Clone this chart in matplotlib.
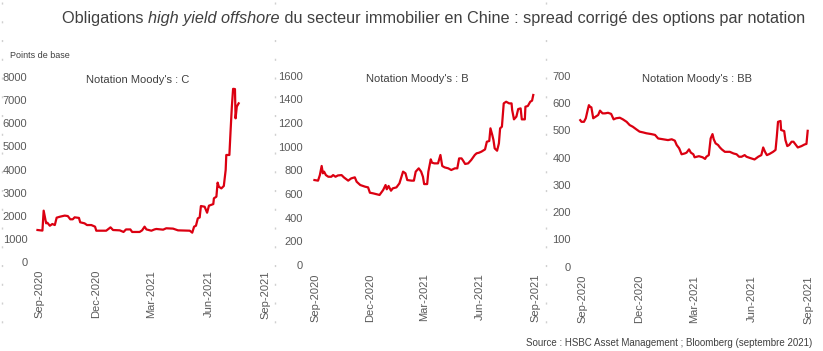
import matplotlib
matplotlib.use("Agg")
import matplotlib.pyplot as plt
import matplotlib.dates as mdates
from matplotlib.lines import Line2D
import pandas as pd
from matplotlib import font_manager as fm

# ---------------- data ----------------
c_dates = ["2020-08-29","2020-09-06","2020-09-08","2020-09-12","2020-09-14","2020-09-18","2020-09-22",
           "2020-09-26","2020-09-29","2020-10-04","2020-10-12","2020-10-17","2020-10-21","2020-10-25",
           "2020-10-28","2020-11-04","2020-11-06","2020-11-13","2020-11-17","2020-11-24","2020-11-30",
           "2020-12-02","2020-12-18","2020-12-25","2020-12-29","2021-01-09","2021-01-15","2021-01-19",
           "2021-01-26","2021-01-29","2021-02-10","2021-02-14","2021-02-18","2021-02-21","2021-03-01",
           "2021-03-06","2021-03-09","2021-03-20","2021-03-25","2021-04-05","2021-04-13","2021-05-02",
           "2021-05-06","2021-05-09","2021-05-12","2021-05-15","2021-05-18","2021-05-20","2021-05-26",
           "2021-05-30","2021-06-02","2021-06-09","2021-06-10","2021-06-14","2021-06-16","2021-06-18",
           "2021-06-22","2021-06-26","2021-06-29","2021-06-30","2021-07-05","2021-07-07","2021-07-09",
           "2021-07-11","2021-07-14","2021-07-15","2021-07-17","2021-07-20"]
c_values = [1375,1350,2215,1665,1690,1560,1635,1590,1910,1950,2000,1980,1840,1840,1925,1900,1710,1665,
            1590,1590,1520,1345,1345,1490,1375,1360,1290,1400,1400,1290,1290,1360,1520,1400,1345,1400,
            1420,1390,1450,1435,1360,1345,1260,1520,1560,1880,1920,2415,2385,2125,2430,2500,2750,2820,
            3430,3255,3180,3285,3980,4630,4630,5715,6730,7500,7490,6220,6730,6870]

b_dates = ["2020-08-31","2020-09-06","2020-09-09","2020-09-12","2020-09-14","2020-09-16","2020-09-19",
           "2020-09-23","2020-09-28","2020-10-01","2020-10-05","2020-10-09","2020-10-15","2020-10-19",
           "2020-10-26","2020-10-31","2020-11-06","2020-11-09","2020-11-15","2020-11-23","2020-11-28",
           "2020-12-01","2020-12-06","2020-12-17","2020-12-23","2020-12-27","2020-12-29","2021-01-01",
           "2021-01-05","2021-01-08","2021-01-14","2021-01-19","2021-01-25","2021-01-29","2021-02-01",
           "2021-02-08","2021-02-12","2021-02-15","2021-02-20","2021-02-24","2021-02-27","2021-03-01",
           "2021-03-06","2021-03-08","2021-03-12","2021-03-14","2021-03-18","2021-03-24","2021-03-28",
           "2021-03-31","2021-04-04","2021-04-10","2021-04-15","2021-04-21","2021-04-25","2021-04-28",
           "2021-05-02","2021-05-04","2021-05-08","2021-05-13","2021-05-18","2021-05-24","2021-05-27",
           "2021-05-31","2021-06-04","2021-06-10","2021-06-13","2021-06-17","2021-06-19","2021-06-22",
           "2021-06-24","2021-06-26","2021-06-30","2021-07-03","2021-07-05","2021-07-08","2021-07-11",
           "2021-07-15","2021-07-20","2021-07-24","2021-07-25","2021-07-28","2021-08-01","2021-08-04",
           "2021-08-08","2021-08-10","2021-08-15","2021-08-16","2021-08-20","2021-08-24","2021-08-27",
           "2021-08-29"]
b_values = [718,713,760,837,775,789,760,746,746,760,746,757,760,740,713,732,741,704,676,662,656,611,606,
            592,634,676,640,668,628,648,656,690,789,775,718,713,713,789,817,789,746,684,684,789,893,865,
            859,859,930,837,825,817,803,817,817,901,901,887,854,859,887,930,944,949,958,977,1042,1048,
            1155,1099,1056,986,966,1028,1155,1169,1366,1380,1366,1366,1310,1231,1254,1318,1324,1231,
            1231,1338,1344,1380,1389,1437]

bb_dates = ["2020-08-28","2020-08-30","2020-09-03","2020-09-06","2020-09-09","2020-09-11","2020-09-13",
            "2020-09-15","2020-09-18","2020-09-22","2020-09-26","2020-09-29","2020-10-03","2020-10-07",
            "2020-10-12","2020-10-17","2020-10-21","2020-10-25","2020-10-31","2020-11-05","2020-11-11",
            "2020-11-16","2020-11-21","2020-11-27","2020-12-02","2020-12-08","2020-12-13","2020-12-21",
            "2020-12-27","2021-01-01","2021-01-09","2021-01-17","2021-01-23","2021-01-28","2021-01-31",
            "2021-02-04","2021-02-08","2021-02-13","2021-02-16","2021-02-20","2021-02-23","2021-02-27",
            "2021-03-01","2021-03-08","2021-03-14","2021-03-18","2021-03-20","2021-03-24","2021-03-27",
            "2021-03-30","2021-04-01","2021-04-04","2021-04-08","2021-04-11","2021-04-14","2021-04-19",
            "2021-04-27","2021-05-03","2021-05-08","2021-05-12","2021-05-16","2021-05-21","2021-05-24",
            "2021-05-29","2021-06-06","2021-06-12","2021-06-17","2021-06-20","2021-06-23","2021-06-26",
            "2021-06-30","2021-07-06","2021-07-10","2021-07-12","2021-07-14","2021-07-18","2021-07-19",
            "2021-07-24","2021-07-26","2021-07-29","2021-08-01","2021-08-05","2021-08-08","2021-08-12",
            "2021-08-15","2021-08-21","2021-08-26","2021-08-29","2021-08-31"]
bb_values = [537,531,531,544,574,592,586,584,544,550,556,572,562,562,564,560,540,544,546,540,531,519,
             513,503,495,492,489,486,483,470,467,464,467,462,446,434,412,415,418,430,418,412,401,405,
             401,395,403,409,470,486,467,452,446,437,430,421,421,415,412,403,403,409,403,399,393,403,
             409,437,421,409,413,421,428,476,531,534,501,497,464,442,446,458,458,446,437,442,448,450,498]

panel_titles = ["Notation Moody's : C", "Notation Moody's : B", "Notation Moody's : BB"]
y_maxes = [8000, 1600, 700]
y_steps = [1000, 200, 100]
x_ticks = ["2020-09-01", "2020-12-01", "2021-03-01", "2021-06-01", "2021-09-01"]

title_parts = [("Obligations ", "normal"), ("high yield offshore", "italic"),
               (" du secteur immobilier en Chine : spread corrigé des options par notation", "normal")]
y_unit = "Points de base"
source = "Source : HSBC Asset Management ; Bloomberg (septembre 2021)"

# ---------------- style ----------------
W, H = 823, 351
RED = "#DB0011"
GREY = "#595959"
DARK = "#404040"
avail = {f.name for f in fm.fontManager.ttflist}
FONT = "Liberation Sans" if "Liberation Sans" in avail else "DejaVu Sans"
NARROW = "Liberation Sans Narrow" if "Liberation Sans Narrow" in avail else FONT
plt.rcParams["font.family"] = [FONT, "DejaVu Sans"]

fig = plt.figure(figsize=(W / 100, H / 100), dpi=100)
fig.patch.set_facecolor("white")

# panel boxes in pixels: (left, right, top, bottom)
boxes = [(31.9, 272.1, 77.3, 261.7), (307.8, 541.7, 75.7, 265.0), (575.3, 815.1, 75.7, 266.7)]
title_cx = [138, 417, 697.5]
title_y = [80, 79, 79]
xlim = (pd.Timestamp("2020-08-20"), pd.Timestamp("2021-09-12"))

series = [(c_dates, c_values), (b_dates, b_values), (bb_dates, bb_values)]
for i, ((l, r, t, b), (d, v)) in enumerate(zip(boxes, series)):
    ax = fig.add_axes([l / W, 1 - b / H, (r - l) / W, (b - t) / H])
    ax.plot(pd.to_datetime(d), v, color=RED, lw=1.6, solid_joinstyle="round")
    ax.set_xlim(*xlim)
    ax.set_ylim(0, y_maxes[i])
    ax.set_yticks(range(0, y_maxes[i] + 1, y_steps[i]))
    ax.set_xticks(pd.to_datetime(x_ticks))
    ax.xaxis.set_major_formatter(mdates.DateFormatter("%b-%Y"))
    for s in ax.spines.values():
        s.set_visible(False)
    ax.tick_params(axis="y", length=0, pad=3.3, labelsize=8, labelcolor=GREY)
    ax.tick_params(axis="x", length=0, pad=6, labelsize=8, labelcolor=GREY, labelrotation=90)
    ax.set_facecolor("none")
    fig.text(title_cx[i] / W, 1 - title_y[i] / H, panel_titles[i], ha="center", va="center",
             fontsize=8, color=DARK)

# faint dotted separators
for xs in [1.5, 274.5, 545.5]:
    fig.add_artist(Line2D([xs / W, xs / W], [1 - 2 / H, 1 - 335 / H], transform=fig.transFigure,
                          color="#d0d0d0", lw=1.0, linestyle=(0, (1.5, 12))))

# title with italic segment, fitted to the reference width
fig.canvas.draw()
renderer = fig.canvas.get_renderer()
target_l, target_r, ty = 62, 805, 19
size = 12.0
for _ in range(3):
    texts = []
    x = target_l
    for s, style in title_parts:
        tt = fig.text(x / W, 1 - ty / H, s, fontsize=size, style=style, color=DARK,
                      ha="left", va="center", family=[NARROW, "DejaVu Sans"])
        bb = tt.get_window_extent(renderer)
        x = bb.x1
        texts.append(tt)
    width = x - target_l
    for tt in texts:
        tt.remove()
    size *= (target_r - target_l) / width
x = target_l
for s, style in title_parts:
    tt = fig.text(x / W, 1 - ty / H, s, fontsize=size, style=style, color=DARK,
                  ha="left", va="center", family=[NARROW, "DejaVu Sans"])
    x = tt.get_window_extent(renderer).x1

fig.text(10 / W, 1 - 55 / H, y_unit, fontsize=6.5, color=DARK, ha="left", va="center")
fig.text(812 / W, 1 - 343 / H, source, fontsize=7, color=DARK, ha="right", va="center")

fig.savefig("out.png", dpi=100, facecolor="white")
